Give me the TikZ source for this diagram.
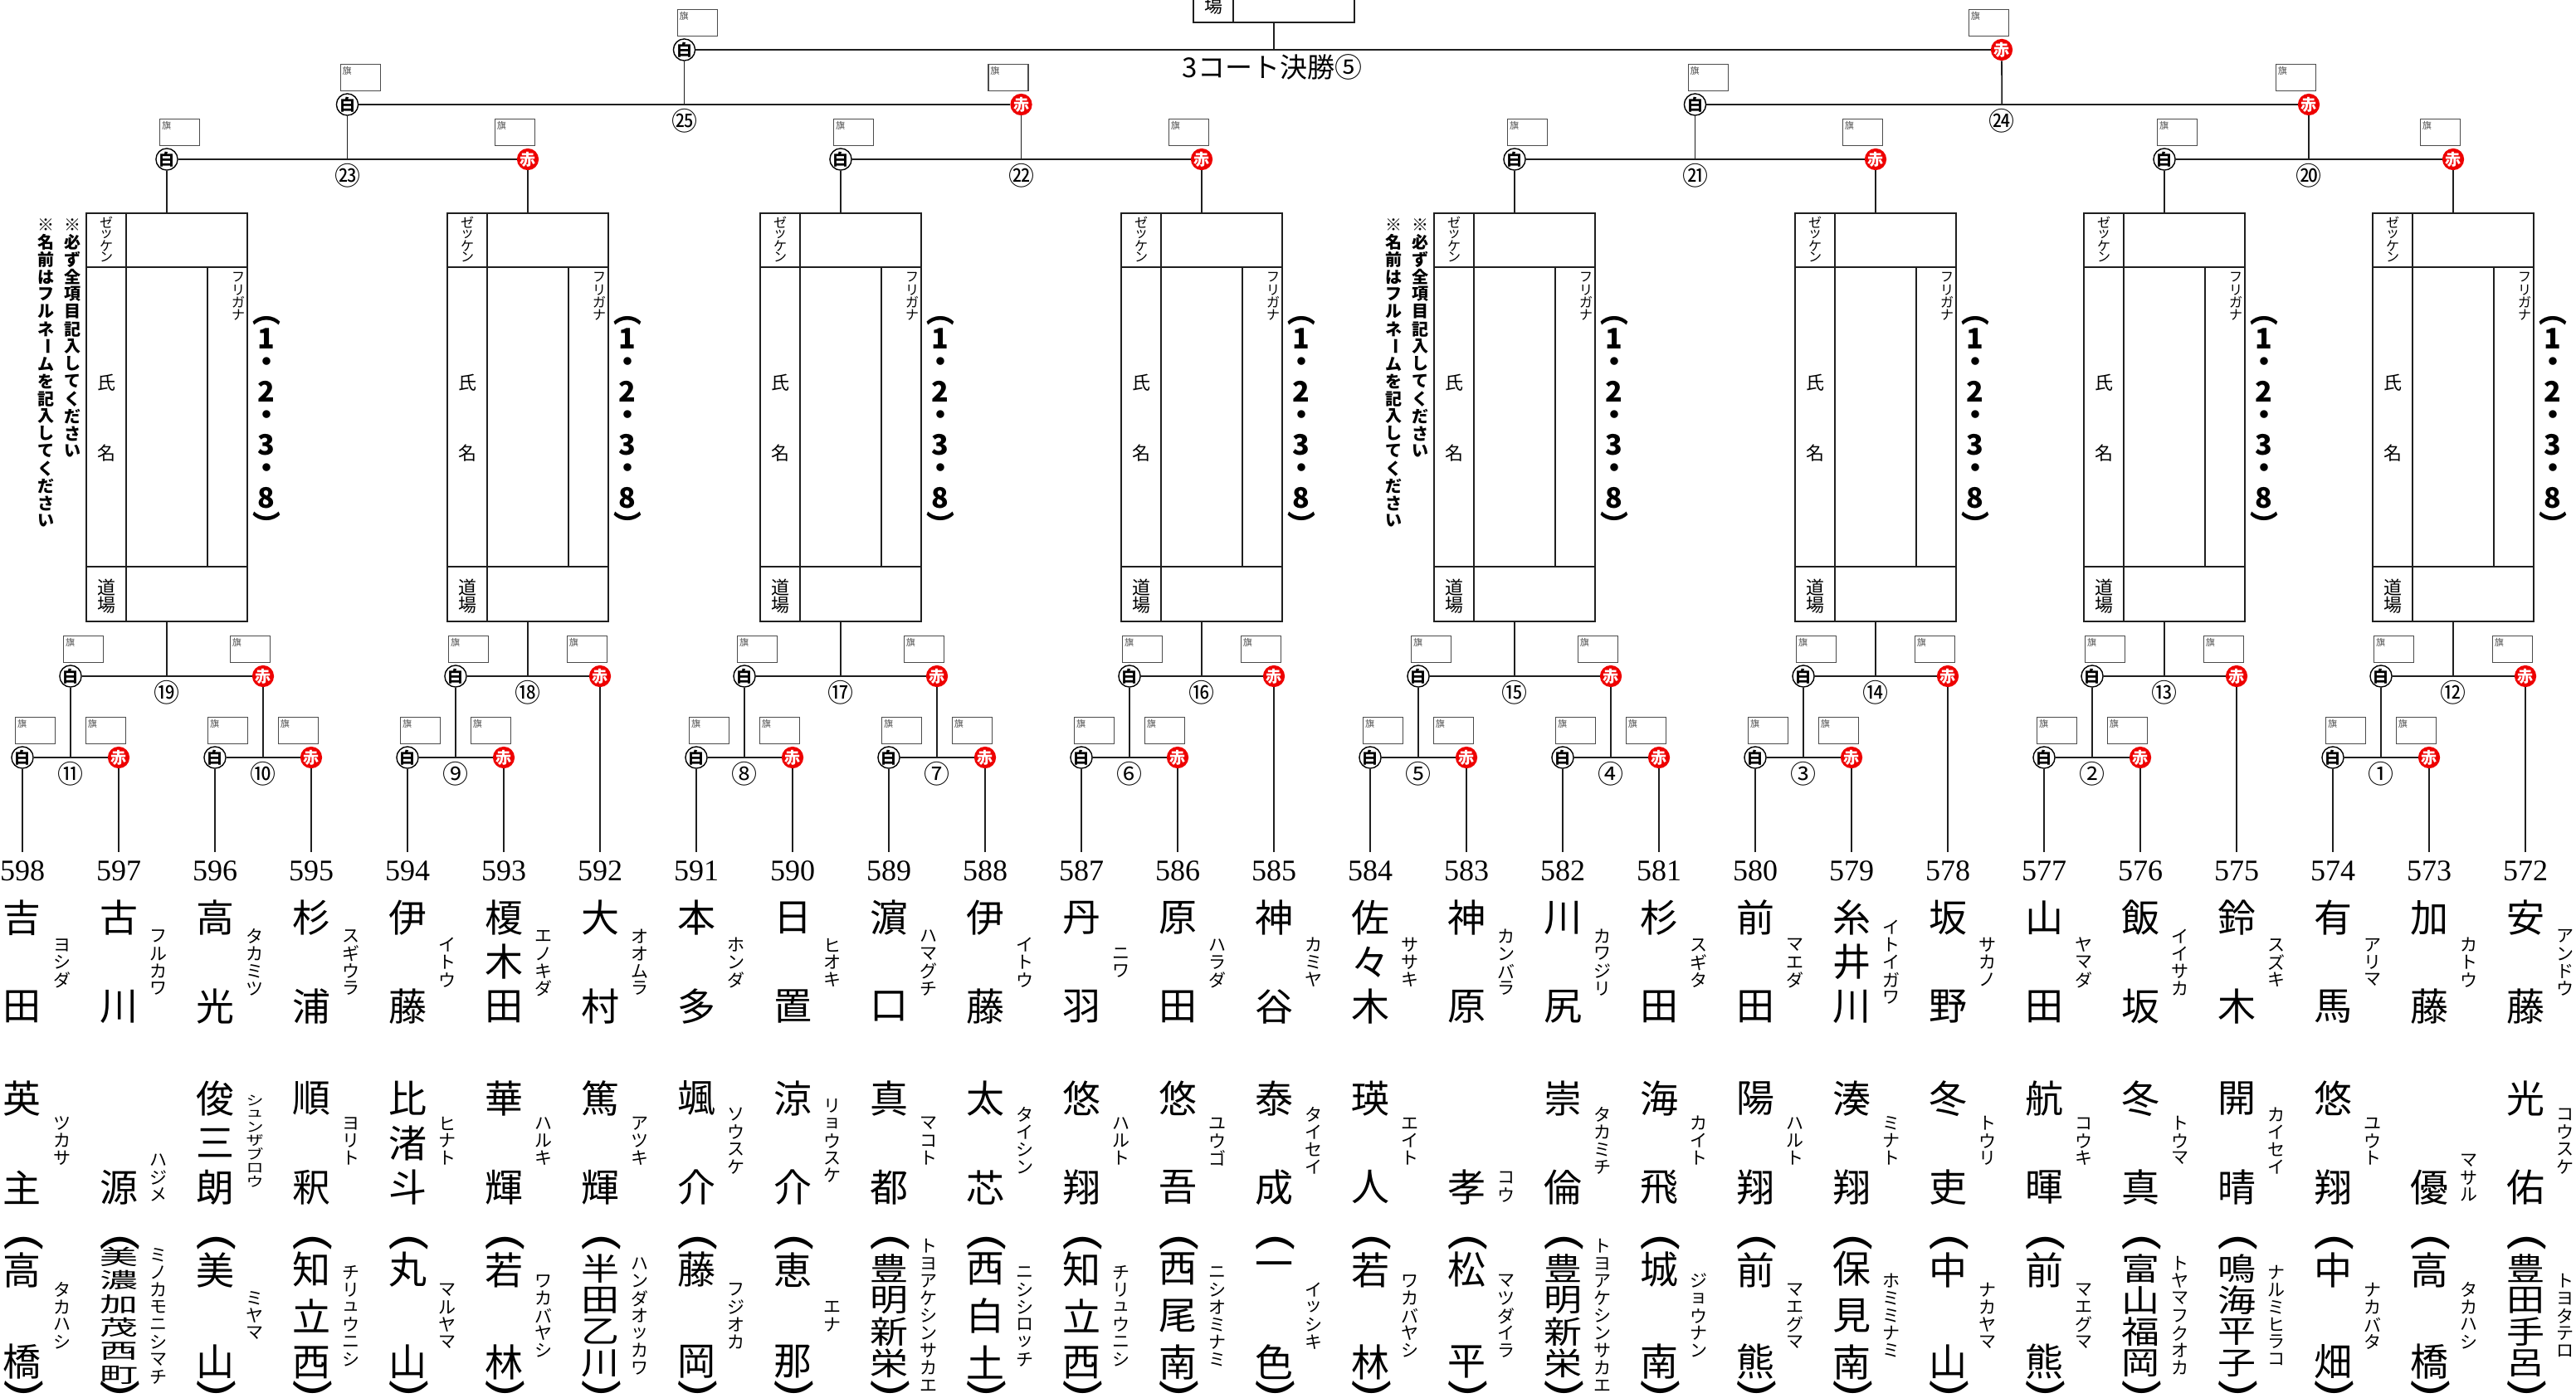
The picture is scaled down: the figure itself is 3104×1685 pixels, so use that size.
\documentclass[tikz,border=0pt]{standalone}
\usepackage{fontspec}
\usepackage{graphicx}
\setmainfont{Noto Sans CJK JP}
\newfontfamily\numfont{Liberation Serif}
\definecolor{aka}{RGB}{238,0,0}
\definecolor{ln}{gray}{0.12}
\definecolor{fg}{gray}{0.3}

% vertical stacking of characters
\newdimen\vpitch
\newcount\vcnt
\def\VSend{VSEND}
\def\VSsc{1}
\newcommand\vst[3][1]{\vbox{\offinterlineskip\def\VSsc{#1}\vpitch=#2pt\relax\VSloop#3\VSend}}
\def\VSloop#1{\ifx#1\VSend\else\VScell{#1}\expandafter\VSloop\fi}
\def\VScell#1{\vbox to\vpitch{\vss\hbox to 0pt{\hss\scalebox{1}[\VSsc]{\VSglyph{#1}}\hss}\vss}}
\def\VSglyph#1{\if ー#1\rotatebox[origin=c]{-90}{ー}\else
  \if （#1\rotatebox[origin=c]{-90}{（}\else
  \if ）#1\rotatebox[origin=c]{-90}{）}\else
  \if (#1\rotatebox[origin=c]{-90}{\scalebox{1.6}[1]{(}}\else
  \if )#1\rotatebox[origin=c]{-90}{\scalebox{1.6}[1]{)}}\else
  #1\fi\fi\fi\fi\fi}
\def\CCend{CCEND}
\def\countchars#1{\vcnt=0 \CCloop#1\CCend}
\def\CCloop#1{\ifx#1\CCend\else\advance\vcnt by 1 \expandafter\CCloop\fi}

\tikzset{
  bl/.style={draw=ln, line width=1.8pt},
  fl/.style={draw=ln, line width=1.6pt},
  wc/.style={circle, draw=black, line width=1.4pt, fill=white, minimum size=25pt, inner sep=0pt, font=\bfseries\fontsize{19}{19}\selectfont},
  rc/.style={circle, fill=aka, text=white, minimum size=25pt, inner sep=0pt, font=\bfseries\fontsize{19}{19}\selectfont},
  cn/.style={inner sep=0pt, font=\fontsize{31}{31}\selectfont},
  flag/.style={draw=fg, line width=1.3pt, minimum width=48pt, minimum height=32pt, inner sep=0pt},
  flagt/.style={anchor=north west, inner sep=0pt, text=fg, font=\fontsize{11}{11}\selectfont, xshift=3pt, yshift=-3pt},
  numf/.style={inner sep=0pt, font=\numfont\fontsize{36}{36}\selectfont},
  nm/.style={inner sep=0pt, font=\fontsize{46}{46}\selectfont},
  fu/.style={inner sep=0pt, font=\fontsize{21}{21}\selectfont},
  sm/.style={inner sep=0pt, font=\fontsize{16}{16}\selectfont},
  md/.style={inner sep=0pt, font=\fontsize{22}{22}\selectfont},
  big/.style={inner sep=0pt, font=\bfseries\fontsize{34}{34}\selectfont},
  note/.style={inner sep=0pt, font=\bfseries\fontsize{20}{20}\selectfont},
  ttl/.style={inner sep=0pt, font=\fontsize{33}{33}\selectfont},
}

\newcommand\match[5]{%
  \node[wc] (#1w) at (#2,#4) {白};
  \node[rc] (#1r) at (#3,#4) {赤};
  \coordinate (#1j) at ({(#2+#3)/2},#4);
  \draw[bl] (#1w) -- (#1r);
  \node[cn] (#1n) at ({(#2+#3)/2},#4+20) {#5};
  \node[flag,anchor=north west] (#1fw) at (#2-9,#4-49) {};
  \node[flagt] (#1fwt) at (#1fw.north west) {旗};
  \node[flag,anchor=north east] (#1fr) at (#3+9,#4-49) {};
  \node[flagt] (#1frt) at (#1fr.north west) {旗};
}

\newcommand\form[2]{%
  \draw[fl] (#2-97,257) rectangle (#2+97,749);
  \draw[fl] (#2-97,322) -- (#2+97,322);
  \draw[fl] (#2-97,683) -- (#2+97,683);
  \draw[fl] (#2-49,257) -- (#2-49,749);
  \draw[fl] (#2+49,322) -- (#2+49,683);
  \coordinate (#1t) at (#2,257);
  \coordinate (#1b) at (#2,749);
  \node[sm] (#1z) at (#2-73,289) {\vst{14}{ゼッケン}};
  \node[sm] (#1k) at (#2+86,357) {\vst{15}{フリガナ}};
  \node[md] (#1s) at (#2-73,461) {氏};
  \node[md] (#1m) at (#2-73,546) {名};
  \node[md] (#1d) at (#2-73,718.5) {\vst{21}{道場}};
  \node[big] (#1p) at (#2+120,504) {\vst{32}{（1・2・3・8）}};
}

\newcommand\ent[8]{%
  \pgfmathsetmacro\Ep{27+116*#1}
  \coordinate (e#1) at (\Ep,1027);
  \node[numf] (num#1) at (\Ep,1050) {#2};
  \countchars{#3}\ifnum\vcnt=3 \def\Pp{53.5}\else\def\Pp{107}\fi
  \node[nm] (sur#1) at (\Ep,1159.5) {\vst{\Pp}{#3}};
  \node[fu] (sf#1) at (\Ep+48,1160) {\vst{21}{#4}};
  \countchars{#5}%
  \ifnum\vcnt=1
    \node[nm] (gv#1) at (\Ep,1431) {#5};
    \node[fu,anchor=south] (gf#1) at (\Ep+48,1451) {\vst{21}{#6}};
  \else
    \ifnum\vcnt=3 \def\Pp{53.5}\else\def\Pp{107}\fi
    \node[nm] (gv#1) at (\Ep,1377.5) {\vst{\Pp}{#5}};
    \countchars{#6}\ifnum\vcnt>5 \pgfmathsetmacro\Fp{114/\vcnt}\pgfmathsetmacro\Fs{\Fp/21}\else\def\Fp{21}\def\Fs{1}\fi
    \node[fu] (gf#1) at (\Ep+48,1375) {\vst[\Fs]{\Fp}{#6}};
  \fi
  \countchars{#7}%
  \ifcase\vcnt \or\or \def\Pp{111}\def\Sc{1}\or \def\Pp{56.5}\def\Sc{1}\or \def\Pp{38}\def\Sc{0.82}\or \def\Pp{33}\def\Sc{0.7}\or \def\Pp{28.6}\def\Sc{0.55}\fi
  \node[nm] (dj#1) at (\Ep,1586) {\vst[\Sc]{\Pp}{#7}};
  \node[nm] (dl#1) at (\Ep+2,1498) {\vst{0}{(}};
  \node[nm] (dr#1) at (\Ep+2,1675) {\vst{0}{)}};
  \node[fu] (df#1) at (\Ep+48,1586) {\vst{21}{#8}};
}

\begin{document}
\begin{tikzpicture}[x=1pt,y=-1pt]
\useasboundingbox (0,0) rectangle (3104,1685);
\clip (0,0) rectangle (3104,1685);

% entrants
\ent{0}{598}{吉田}{ヨシダ}{英主}{ツカサ}{高橋}{タカハシ}
\ent{1}{597}{古川}{フルカワ}{源}{ハジメ}{美濃加茂西町}{ミノカモニシマチ}
\ent{2}{596}{高光}{タカミツ}{俊三朗}{シュンザブロウ}{美山}{ミヤマ}
\ent{3}{595}{杉浦}{スギウラ}{順釈}{ヨリト}{知立西}{チリュウニシ}
\ent{4}{594}{伊藤}{イトウ}{比渚斗}{ヒナト}{丸山}{マルヤマ}
\ent{5}{593}{榎木田}{エノキダ}{華輝}{ハルキ}{若林}{ワカバヤシ}
\ent{6}{592}{大村}{オオムラ}{篤輝}{アツキ}{半田乙川}{ハンダオッカワ}
\ent{7}{591}{本多}{ホンダ}{颯介}{ソウスケ}{藤岡}{フジオカ}
\ent{8}{590}{日置}{ヒオキ}{涼介}{リョウスケ}{恵那}{エナ}
\ent{9}{589}{濵口}{ハマグチ}{真都}{マコト}{豊明新栄}{トヨアケシンサカエ}
\ent{10}{588}{伊藤}{イトウ}{太芯}{タイシン}{西白土}{ニシシロッチ}
\ent{11}{587}{丹羽}{ニワ}{悠翔}{ハルト}{知立西}{チリュウニシ}
\ent{12}{586}{原田}{ハラダ}{悠吾}{ユウゴ}{西尾南}{ニシオミナミ}
\ent{13}{585}{神谷}{カミヤ}{泰成}{タイセイ}{一色}{イッシキ}
\ent{14}{584}{佐々木}{ササキ}{瑛人}{エイト}{若林}{ワカバヤシ}
\ent{15}{583}{神原}{カンバラ}{孝}{コウ}{松平}{マツダイラ}
\ent{16}{582}{川尻}{カワジリ}{崇倫}{タカミチ}{豊明新栄}{トヨアケシンサカエ}
\ent{17}{581}{杉田}{スギタ}{海飛}{カイト}{城南}{ジョウナン}
\ent{18}{580}{前田}{マエダ}{陽翔}{ハルト}{前熊}{マエグマ}
\ent{19}{579}{糸井川}{イトイガワ}{湊翔}{ミナト}{保見南}{ホミミナミ}
\ent{20}{578}{坂野}{サカノ}{冬吏}{トウリ}{中山}{ナカヤマ}
\ent{21}{577}{山田}{ヤマダ}{航暉}{コウキ}{前熊}{マエグマ}
\ent{22}{576}{飯坂}{イイサカ}{冬真}{トウマ}{富山福岡}{トヤマフクオカ}
\ent{23}{575}{鈴木}{スズキ}{開晴}{カイセイ}{鳴海平子}{ナルミヒラコ}
\ent{24}{574}{有馬}{アリマ}{悠翔}{ユウト}{中畑}{ナカバタ}
\ent{25}{573}{加藤}{カトウ}{優}{マサル}{高橋}{タカハシ}
\ent{26}{572}{安藤}{アンドウ}{光佑}{コウスケ}{豊田手呂}{トヨタテロ}

% first round
\match{ma}{27}{143}{913}{⑪}
\match{mb}{259}{375}{913}{⑩}
\match{mc}{491}{607}{913}{⑨}
\match{md}{839}{955}{913}{⑧}
\match{me}{1071}{1187}{913}{⑦}
\match{mf}{1303}{1419}{913}{⑥}
\match{mg}{1651}{1767}{913}{⑤}
\match{mh}{1883}{1999}{913}{④}
\match{mi}{2115}{2231}{913}{③}
\match{mj}{2463}{2579}{913}{②}
\match{mk}{2811}{2927}{913}{①}
% second round
\match{na}{85}{317}{815}{⑲}
\match{nb}{549}{723}{815}{⑱}
\match{nc}{897}{1129}{815}{⑰}
\match{nd}{1361}{1535}{815}{⑯}
\match{ne}{1709}{1941}{815}{⑮}
\match{nf}{2173}{2347}{815}{⑭}
\match{ng}{2521}{2695}{815}{⑬}
\match{nh}{2869}{3043}{815}{⑫}
% upper rounds
\match{pa}{201}{636}{192}{㉓}
\match{pb}{1013}{1448}{192}{㉒}
\match{pc}{1825}{2260}{192}{㉑}
\match{pd}{2608}{2956}{192}{⑳}
\match{qa}{418.5}{1230.5}{126}{㉕}
\match{qb}{2042.5}{2782}{126}{㉔}

% entrant lines
\foreach \m/\a/\b in {ma/0/1,mb/2/3,mc/4/5,md/7/8,me/9/10,mf/11/12,mg/14/15,mh/16/17,mi/18/19,mj/21/22,mk/24/25}{
  \draw[bl] (\m w) -- (e\a);
  \draw[bl] (\m r) -- (e\b);
}
\foreach \m/\a in {nbr/6,ndr/13,nfr/20,ngr/23,nhr/26}{
  \draw[bl] (\m) -- (e\a);
}
\foreach \u/\v in {naw/maj,nar/mbj,nbw/mcj,ncw/mdj,ncr/mej,ndw/mfj,new/mgj,ner/mhj,nfw/mij,ngw/mjj,nhw/mkj,qaw/paj,qar/pbj,qbw/pcj,qbr/pdj}{
  \draw[bl] (\u) -- (\v);
}

% forms
\form{Fa}{201}
\form{Fb}{636}
\form{Fc}{1013}
\form{Fd}{1448}
\form{Fe}{1825}
\form{Ff}{2260}
\form{Fg}{2608}
\form{Fh}{2956}
\foreach \f/\j/\c in {Fa/naj/paw,Fb/nbj/par,Fc/ncj/pbw,Fd/ndj/pbr,Fe/nej/pcw,Ff/nfj/pcr,Fg/ngj/pdw,Fh/nhj/pdr}{
  \draw[bl] (\f b) -- (\j);
  \draw[bl] (\f t) -- (\c);
}
\node[note,anchor=north] (noteA1) at (87,260) {\vst{21}{※必ず全項目記入してください}};
\node[note,anchor=north] (noteA2) at (55,260) {\vst{21}{※名前はフルネームを記入してください}};
\node[note,anchor=north] (noteB1) at (1711,260) {\vst{21}{※必ず全項目記入してください}};
\node[note,anchor=north] (noteB2) at (1679,260) {\vst{21}{※名前はフルネームを記入してください}};

% final
\draw[fl] (1438,-40) rectangle (1632,27);
\draw[fl] (1486,-40) -- (1486,27);
\node[md] (topd) at (1462,-14) {道};
\node[md] (topb) at (1462,7) {場};
\coordinate (topc) at (1535,27);
\node[wc] (zw) at (824.5,60) {白};
\node[rc] (zr) at (2412,60) {赤};
\coordinate (zj) at (1535,60);
\draw[bl] (zw) -- (zr);
\draw[bl] (topc) -- (zj);
\node[ttl] (ztitle) at (1533,81) {3コート決勝⑤};
\node[flag,anchor=north west] (zfw) at (815.5,11) {};
\node[flagt] (zfwt) at (zfw.north west) {旗};
\node[flag,anchor=north east] (zfr) at (2421,11) {};
\node[flagt] (zfrt) at (zfr.north west) {旗};
\draw[bl] (zw) -- (qaj);
\draw[bl] (zr) -- (qbj);
\end{tikzpicture}
\end{document}
